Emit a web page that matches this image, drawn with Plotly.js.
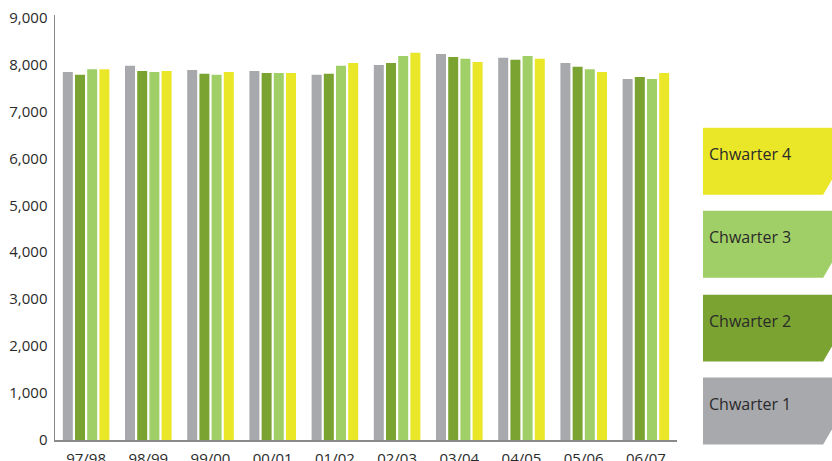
<!DOCTYPE html>
<html>
<head>
<meta charset="utf-8">
<script src="https://cdn.plot.ly/plotly-3.0.1.min.js"></script>
<style>html,body{margin:0;padding:0;background:#fff;}#chart{width:832px;height:461px;}</style>
</head>
<body>
<div id="chart"></div>
<script>
// Data
const categories = ["97/98","98/99","99/00","00/01","01/02","02/03","03/04","04/05","05/06","06/07"];
const seriesNames = ["Chwarter 1","Chwarter 2","Chwarter 3","Chwarter 4"];
const q1 = [7840, 7970, 7880, 7860, 7780, 7990, 8220, 8140, 8030, 7690];
const q2 = [7780, 7860, 7800, 7820, 7800, 8030, 8160, 8100, 7950, 7730];
const q3 = [7900, 7840, 7780, 7820, 7970, 8180, 8120, 8180, 7900, 7690];
const q4 = [7900, 7860, 7840, 7820, 8030, 8250, 8050, 8120, 7840, 7820];
const yTickVals = [0,1000,2000,3000,4000,5000,6000,7000,8000,9000];
const yTickText = ["0","1,000","2,000","3,000","4,000","5,000","6,000","7,000","8,000","9,000"];

const colors = ["#A8A9AD", "#7AA331", "#A1CF67", "#EAE628"];
const seriesValues = [q1, q2, q3, q4];

const W = 832, H = 461;
const L = 54.5, R = 677, T = 15, B = 440.5;
const FONT = "Open Sans, sans-serif";

const traces = seriesValues.map((v, i) => ({
  type: "bar",
  name: seriesNames[i],
  x: categories,
  y: v,
  marker: {color: colors[i], line: {width: 0}},
  hoverinfo: "x+y+name"
}));

// legend boxes (pixel geometry converted to paper coords)
const px = x => (x - L) / (R - L);
const py = y => (B - y) / (B - T);
const boxTops = [378, 295, 211, 128]; // Chwarter 1..4
const boxH = 67;
const shapes = [];
const annotations = [];
for (let i = 0; i < 4; i++) {
  const t = boxTops[i], b = t + boxH;
  const path = `M ${px(703)} ${py(t)} L ${px(840)} ${py(t)} L ${px(840)} ${py(b - 29)} L ${px(823.3)} ${py(b)} L ${px(703)} ${py(b)} Z`;
  shapes.push({type: "path", xref: "paper", yref: "paper", path: path,
    fillcolor: colors[i], line: {width: 0}, layer: "above"});
  annotations.push({xref: "paper", yref: "paper", x: px(707), y: py(t + 26),
    xanchor: "left", yanchor: "middle", showarrow: false,
    text: seriesNames[i], font: {family: FONT, size: 16, color: "#2a2a2a"}});
}

const layout = {
  width: W, height: H,
  margin: {l: L, r: W - R, t: T, b: H - B, pad: 0},
  paper_bgcolor: "#fff", plot_bgcolor: "#fff",
  showlegend: false,
  barmode: "group",
  bargap: 0.216,
  bargroupgap: 0.18,
  font: {family: FONT, size: 15, color: "#2a2a2a"},
  xaxis: {
    type: "category",
    range: [-0.5, 9.5],
    showgrid: false, zeroline: false,
    showline: true, linecolor: "#8a8a8a", linewidth: 1.5,
    ticks: "", ticklabelstandoff: 4,
    tickfont: {family: FONT, size: 15, color: "#2a2a2a"},
    fixedrange: true
  },
  yaxis: {
    range: [0, 9053],
    tickvals: yTickVals, ticktext: yTickText,
    showgrid: false, zeroline: false,
    showline: true, linecolor: "#8a8a8a", linewidth: 1.5,
    ticks: "", ticklabelstandoff: 3,
    tickfont: {family: FONT, size: 15, color: "#2a2a2a"},
    fixedrange: true
  },
  shapes: shapes,
  annotations: annotations
};

Plotly.newPlot("chart", traces, layout, {displayModeBar: false, staticPlot: true});
</script>
</body>
</html>
